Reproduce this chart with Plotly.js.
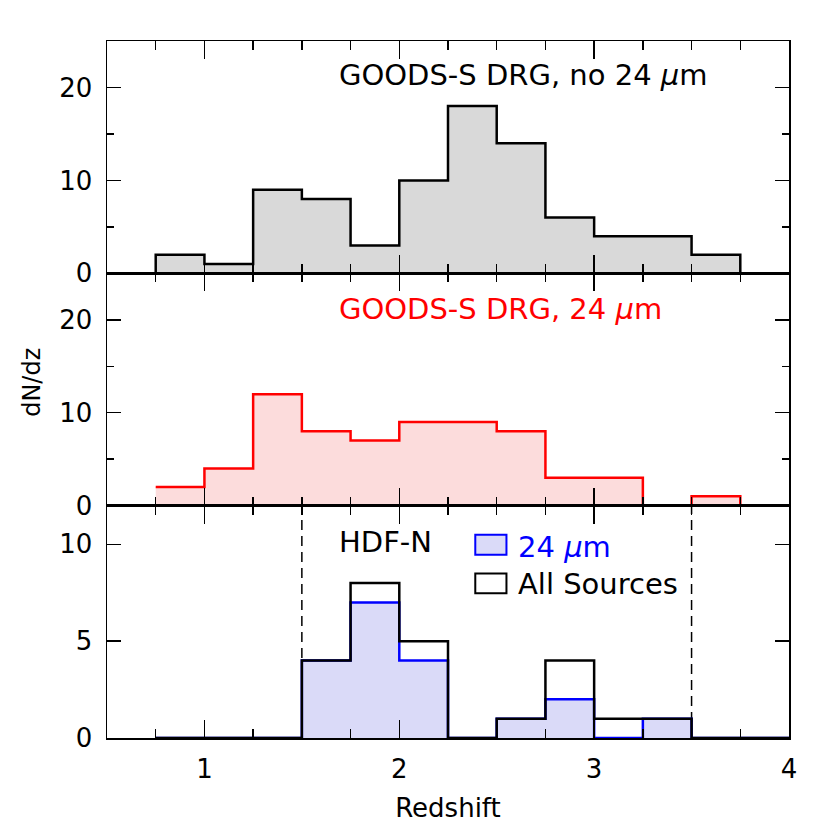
<!DOCTYPE html>
<html>
<head>
<meta charset="utf-8">
<script src="https://cdn.plot.ly/plotly-3.0.1.min.js"></script>
<style>
  html, body { margin: 0; padding: 0; background: #fff; }
  #plot { width: 830px; height: 830px; }
</style>
</head>
<body>
<div id="plot"></div>
<script>
// redshift bins (left edges), width 0.25
const binLeft = [0.75, 1.00, 1.25, 1.50, 1.75, 2.00, 2.25, 2.50, 2.75, 3.00, 3.25, 3.50, 3.75];
const binWidth = 0.25;

// GOODS-S DRGs without 24 micron detection
const goodsNo24 = [2, 1, 9, 8, 3, 10, 18, 14, 6, 4, 4, 2, 0];
// GOODS-S DRGs with 24 micron detection
const goods24 = [2, 4, 12, 8, 7, 9, 9, 8, 3, 3, 0, 1, 0];
// HDF-N: all sources and 24 micron sources
const hdfAll = [0, 0, 0, 4, 8, 5, 0, 1, 4, 1, 1, 0, 0];
const hdf24 = [0, 0, 0, 4, 7, 4, 0, 1, 2, 0, 1, 0, 0];

// redshift window marked in HDF-N panel
const zWindow = [1.5, 3.5];

const font = "DejaVu Sans";

// build a step outline (hv) from bin counts
function steps(counts, lead) {
    let x = [];
    let y = [];
    if (lead) {
        x.push(binLeft[0] - lead);
        y.push(0);
    }
    for (let i = 0; i < binLeft.length; i++) {
        x.push(binLeft[i]);
        y.push(counts[i]);
    }
    x.push(binLeft[binLeft.length - 1] + binWidth);
    y.push(counts[counts.length - 1]);
    return { x, y };
}

const sTop = steps(goodsNo24, binWidth / 2);
const sMid = steps(goods24, 0);
const sAll = steps(hdfAll, 0);
const s24 = steps(hdf24, 0);

const data = [
    {
        x: sTop.x, y: sTop.y, xaxis: "x", yaxis: "y",
        type: "scatter", mode: "lines",
        line: { shape: "hv", color: "black", width: 2.5 },
        fill: "tozeroy", fillcolor: "#d9d9d9",
    },
    {
        x: sMid.x, y: sMid.y, xaxis: "x2", yaxis: "y2",
        type: "scatter", mode: "lines",
        line: { shape: "hv", color: "#ff0000", width: 2.5 },
        fill: "tozeroy", fillcolor: "#fcdcdc",
    },
    {
        x: s24.x, y: s24.y, xaxis: "x3", yaxis: "y3",
        type: "scatter", mode: "lines",
        line: { shape: "hv", color: "#0000ff", width: 2.5 },
        fill: "tozeroy", fillcolor: "#dadaf8",
    },
    {
        x: sAll.x, y: sAll.y, xaxis: "x3", yaxis: "y3",
        type: "scatter", mode: "lines",
        line: { shape: "hv", color: "black", width: 2.5 },
    },
];

function xAxis(anchor, labels) {
    return {
        anchor: anchor,
        range: [0.5, 4],
        tickmode: "linear", tick0: 0, dtick: 1,
        ticks: "inside", ticklen: 18, tickwidth: 1.5, tickcolor: "black",
        minor: { dtick: 0.25, tick0: 0, ticks: "inside", ticklen: 9, tickwidth: 1.5, tickcolor: "black" },
        showline: true, linecolor: "black", linewidth: 1.5, mirror: "ticks",
        showgrid: false, zeroline: false,
        showticklabels: labels,
        ticklabelstandoff: 7,
        tickfont: { family: font, size: 26, color: "black" },
    };
}

function yAxis(domain, range, dtick, minorDtick) {
    let ax = {
        domain: domain,
        range: range,
        tickmode: "linear", tick0: 0, dtick: dtick,
        ticks: "inside", ticklen: 14, tickwidth: 1.5, tickcolor: "black",
        showline: true, linecolor: "black", linewidth: 1.5, mirror: "ticks",
        showgrid: false, zeroline: false,
        ticklabelstandoff: 8,
        tickfont: { family: font, size: 26, color: "black" },
    };
    if (minorDtick) {
        ax.minor = { dtick: minorDtick, tick0: 0, ticks: "inside", ticklen: 7, tickwidth: 1.5, tickcolor: "black" };
    }
    return ax;
}

const xa3 = xAxis("y3", true);
xa3.title = { text: "Redshift", font: { family: font, size: 26, color: "black" }, standoff: 16 };

const layout = {
    width: 830, height: 830,
    margin: { l: 107, r: 41, t: 41, b: 92 },
    paper_bgcolor: "white", plot_bgcolor: "white",
    showlegend: false,
    font: { family: font, color: "black" },
    xaxis: xAxis("y", false),
    xaxis2: xAxis("y2", false),
    xaxis3: xa3,
    yaxis: yAxis([2 / 3, 1], [0, 25], 10, 5),
    yaxis2: yAxis([1 / 3, 2 / 3], [0, 25], 10, 5),
    yaxis3: yAxis([0, 1 / 3], [0, 12], 5, 0),
    shapes: [
        ...zWindow.map(z => ({
            type: "line", xref: "x3", yref: "y3 domain",
            x0: z, x1: z, y0: 0, y1: 1,
            line: { color: "black", width: 1.5, dash: "10px,6px" },
            layer: "below",
        })),
        // legend boxes
        {
            type: "rect", xref: "x3", yref: "y3",
            x0: 2.39, x1: 2.55, y0: 9.47, y1: 10.5,
            line: { color: "#0000ff", width: 2 }, fillcolor: "#dadaf8",
        },
        {
            type: "rect", xref: "x3", yref: "y3",
            x0: 2.39, x1: 2.55, y0: 7.48, y1: 8.5,
            line: { color: "black", width: 2 }, fillcolor: "white",
        },
    ],
    annotations: [
        {
            text: "GOODS-S DRG, no 24 <i>µ</i>m", xref: "x", yref: "y",
            x: 1.68, y: 21.3, xanchor: "left", yanchor: "middle", showarrow: false,
            font: { family: font, size: 29, color: "black" },
        },
        {
            text: "GOODS-S DRG, 24 <i>µ</i>m", xref: "x2", yref: "y2",
            x: 1.68, y: 21.2, xanchor: "left", yanchor: "middle", showarrow: false,
            font: { family: font, size: 29, color: "#ff0000" },
        },
        {
            text: "HDF-N", xref: "x3", yref: "y3",
            x: 1.68, y: 10.1, xanchor: "left", yanchor: "middle", showarrow: false,
            font: { family: font, size: 29, color: "black" },
        },
        {
            text: "24 <i>µ</i>m", xref: "x3", yref: "y3",
            x: 2.6, y: 9.85, xanchor: "left", yanchor: "middle", showarrow: false,
            font: { family: font, size: 29, color: "#0000ff" },
        },
        {
            text: "All Sources", xref: "x3", yref: "y3",
            x: 2.6, y: 7.95, xanchor: "left", yanchor: "middle", showarrow: false,
            font: { family: font, size: 29, color: "black" },
        },
        {
            text: "dN/dz", xref: "paper", yref: "paper",
            x: -0.11, y: 0.511, xanchor: "center", yanchor: "middle", showarrow: false,
            textangle: -90,
            font: { family: font, size: 24, color: "black" },
        },
    ],
};

Plotly.newPlot("plot", data, layout, { staticPlot: true });
</script>
</body>
</html>
